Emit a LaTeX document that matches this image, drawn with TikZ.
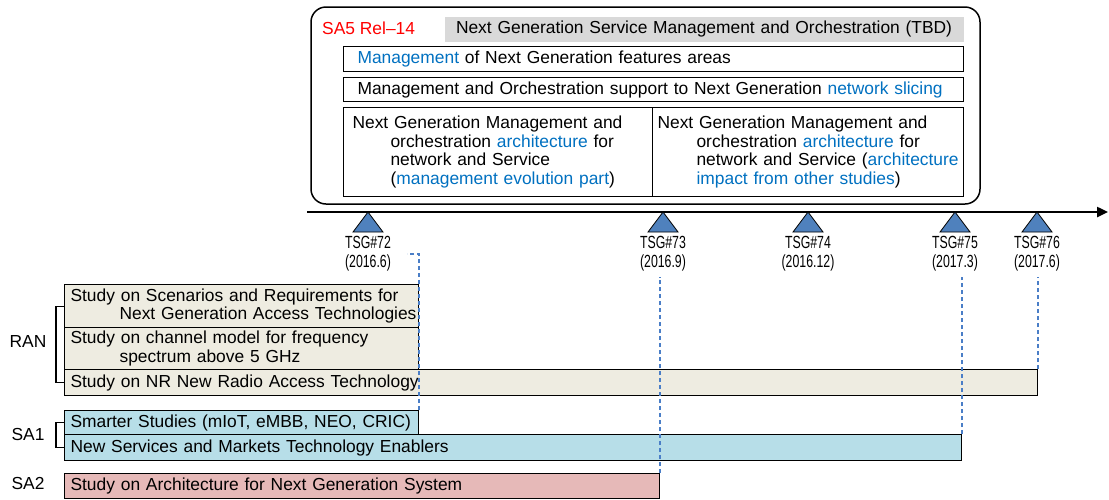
\documentclass[tikz,border=0pt]{standalone}
\usepackage{fontspec}
\setmainfont{Liberation Sans}
\usetikzlibrary{arrows.meta}

\definecolor{mgtblue}{HTML}{0070C0}
\definecolor{ranfill}{HTML}{EEECE1}
\definecolor{saonefill}{HTML}{B7DEE8}
\definecolor{satwofill}{HTML}{E6B9B8}
\definecolor{tsgblue}{HTML}{4F81BD}
\definecolor{dashblue}{HTML}{4A7EC7}
\newcommand{\hl}[1]{\textcolor{mgtblue}{#1}}

\begin{document}
\begin{tikzpicture}[x=1pt, y=-1pt,
	font=\fontsize{17.4}{18.6}\selectfont,
	box/.style={draw, line width=1.1pt, anchor=north west, align=left, inner ysep=0pt},
	tsgmark/.style={draw=black, line width=0.8pt, fill=tsgblue},
	tsglabel/.style={align=center, inner sep=2pt, xscale=0.7, transform shape,
		font=\fontsize{17.6}{19}\selectfont},
	tsgdash/.style={dashblue, line width=1.4pt, dash pattern=on 4pt off 3pt},
	bracket/.style={line width=1.1pt}]
	\useasboundingbox (0,0) rectangle (1109,499);

	% SA5 Rel-14
	\draw[line width=1.5pt, rounded corners=15pt] (311,7) rectangle (980,204);
	\node[text=red, anchor=west, inner sep=0pt] (sa5lbl) at (322,28) {SA5 Rel--14};
	\node[box, draw=none, fill=black!15, align=center, inner xsep=4pt, text width=511pt, minimum height=25pt] (ngsm) at (444,16) {Next Generation Service Management and Orchestration (TBD)};
	\node[box, inner xsep=14pt, text width=592pt, minimum height=25pt] (mgmt) at (343,46) {\hl{Management} of Next Generation features areas};
	\node[box, inner xsep=14pt, text width=592pt, minimum height=24pt] (slice) at (343,77) {Management and Orchestration support to Next Generation \hl{network slicing}};
	\node[box, inner xsep=9pt, text width=291pt, minimum height=89pt] (archl) at (343,107) {Next Generation Management and\\
		\hspace*{38pt}orchestration \hl{architecture} for\\
		\hspace*{38pt}network and Service\\
		\hspace*{38pt}(\hl{management evolution part})};
	\node[box, inner xsep=5pt, text width=301pt, minimum height=89pt] (archr) at (652,107) {Next Generation Management and\\
		\hspace*{39pt}orchestration \hl{architecture} for\\
		\hspace*{39pt}\mbox{network and Service (\hl{architecture}}\\
		\hspace*{39pt}\hl{impact from other studies})};

	% timeline
	\coordinate (tl0) at (307,212);
	\coordinate (tl1) at (1108,212);
	\draw[line width=2.4pt, -{Triangle[length=11pt, width=10pt]}] (tl0) -- (tl1);
	\foreach \x/\n/\d in {368/72/2016.6, 663/73/2016.9, 808/74/2016.12, 955/75/2017.3, 1037/76/2017.6} {
		\coordinate (m\n) at (\x,212);
		\draw[tsgmark] (m\n) -- ++(15,20) -- ++(-30,0) -- cycle;
		\node[tsglabel] (t\n) at (\x,254) {TSG\#\n\\(\d)};
	}

	% RAN
	\node[box, fill=ranfill, inner xsep=6pt, text width=342pt, minimum height=43pt] (ran1) at (64,284) {\mbox{Study on Scenarios and Requirements for}\\
		\hspace*{49pt}\mbox{Next Generation Access Technologies}};
	\node[box, fill=ranfill, inner xsep=6pt, text width=342pt, minimum height=42pt] (ran2) at (64,327) {Study on channel model for frequency\\
		\hspace*{49pt}spectrum above 5 GHz};
	\node[box, fill=ranfill, inner xsep=6pt, text width=961pt, minimum height=26pt] (ran3) at (64,369) {Study on NR New Radio Access Technology};
	\node (ranlbl) at (28,342) {RAN};
	\draw[bracket] (ran1.west) -- ++(-8,0) |- (ran3.west);

	% SA1
	\node[box, fill=saonefill, inner xsep=6pt, text width=342pt, minimum height=24pt] (sa1a) at (64,410) {Smarter Studies (mIoT, eMBB, NEO, CRIC)};
	\node[box, fill=saonefill, inner xsep=6pt, text width=885pt, minimum height=26pt] (sa1b) at (64,434) {New Services and Markets Technology Enablers};
	\node (sa1lbl) at (28,435) {SA1};
	\draw[bracket] (sa1a.west) -- ++(-8,0) |- (sa1b.west);

	% SA2
	\node[box, fill=satwofill, inner xsep=6pt, text width=583pt, minimum height=25pt] (sa2) at (64,473) {Study on Architecture for Next Generation System};
	\node (sa2lbl) at (28,484) {SA2};

	% TSG deadlines
	\draw[tsgdash] (sa1a.north east) -- (sa1a.east |- t72.east) -- ++(-12,0);
	\draw[tsgdash] (sa2.north east) -- ([yshift=-3pt]sa2.north east |- t73.south);
	\draw[tsgdash] (sa1b.north east) -- ([yshift=-3pt]sa1b.north east |- t75.south);
	\draw[tsgdash] (ran3.north east) -- ([yshift=-3pt]ran3.north east |- t76.south);
\end{tikzpicture}
\end{document}
